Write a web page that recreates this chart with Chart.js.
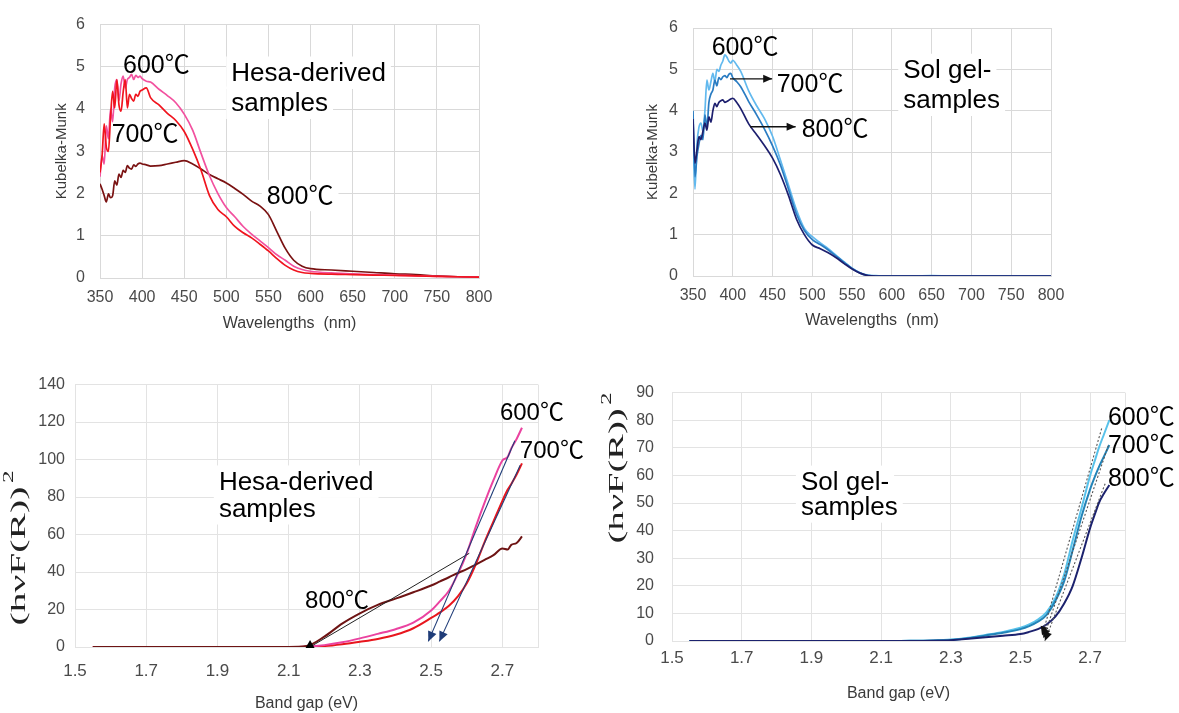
<!DOCTYPE html>
<html>
<head>
<meta charset="utf-8">
<script src="https://cdn.jsdelivr.net/npm/chart.js@4.4.1/dist/chart.umd.min.js"></script>
<style>
  html, body { margin: 0; padding: 0; background: #fff; }
  #wrap { position: relative; width: 1179px; height: 713px; overflow: hidden; background: #fff; }
  .panel { position: absolute; }
</style>
</head>
<body>
<div id="wrap">
  <div class="panel" style="left:40px;top:0;"><canvas id="cTL" width="470" height="340"></canvas></div>
  <div class="panel" style="left:630px;top:0;"><canvas id="cTR" width="450" height="340"></canvas></div>
  <div class="panel" style="left:0;top:365px;"><canvas id="cBL" width="600" height="348"></canvas></div>
  <div class="panel" style="left:600px;top:365px;"><canvas id="cBR" width="579" height="348"></canvas></div>
</div>
<script>
/* ── Data: Kubelka-Munk vs wavelength ── */
const wl = [350, 352.5, 355, 357.5, 360, 362.5, 365, 367.5, 370, 372.5,
            375, 377.5, 380, 382.5, 385, 387.5, 390, 392.5, 395, 397.5,
            400, 405, 410, 420, 430, 440, 450, 460, 470, 480,
            490, 500, 510, 520, 530, 540, 550, 560, 570, 580,
            590, 600, 625, 650, 675, 700, 725, 750, 775, 800];

const hesa600 = [2.4, 2.9, 2.7, 3.6, 3.3, 4.0, 3.7, 4.5, 4.7, 4.2,
                 4.6, 4.78, 4.5, 4.7, 4.75, 4.82, 4.7, 4.8, 4.75, 4.78,
                 4.72, 4.66, 4.64, 4.47, 4.32, 4.15, 3.88, 3.5, 2.95, 2.42,
                 2.0, 1.67, 1.45, 1.22, 1.04, 0.88, 0.72, 0.55, 0.42, 0.28,
                 0.2, 0.16, 0.12, 0.1, 0.08, 0.07, 0.05, 0.04, 0.03, 0.02];
const hesa700 = [2.5, 2.9, 3.65, 3.1, 3.0, 3.8, 4.42, 4.03, 4.7, 4.1,
                 3.95, 4.4, 4.7, 4.03, 4.35, 4.25, 4.19, 4.35, 4.3, 4.42,
                 4.45, 4.5, 4.27, 4.1, 3.9, 3.73, 3.47, 3.05, 2.55, 1.95,
                 1.62, 1.45, 1.22, 1.07, 0.95, 0.8, 0.64, 0.46, 0.3, 0.19,
                 0.13, 0.11, 0.09, 0.08, 0.07, 0.06, 0.05, 0.04, 0.03, 0.02];
const hesa800 = [2.23, 2.1, 1.95, 1.8, 1.99, 1.9, 1.95, 2.3, 2.2, 2.46,
                 2.38, 2.55, 2.5, 2.66, 2.6, 2.58, 2.68, 2.64, 2.7, 2.72,
                 2.7, 2.68, 2.65, 2.66, 2.7, 2.74, 2.78, 2.7, 2.58, 2.45,
                 2.35, 2.25, 2.12, 1.98, 1.82, 1.7, 1.5, 1.1, 0.7, 0.42,
                 0.28, 0.22, 0.19, 0.16, 0.13, 0.1, 0.08, 0.05, 0.03, 0.02];

const sol600 = [3.3, 2.1, 3.2, 3.6, 3.7, 3.5, 4.0, 4.74, 4.5, 4.7,
                4.9, 4.7, 5.0, 4.95, 5.1, 5.2, 5.35, 5.3, 5.2, 5.15,
                5.22, 5.1, 4.95, 4.48, 4.12, 3.8, 3.38, 2.8, 2.2, 1.6,
                1.15, 0.95, 0.8, 0.66, 0.5, 0.34, 0.19, 0.08, 0.02, 0.01,
                0, 0, 0, 0.01, 0, 0, 0, 0, 0, 0];
const sol700 = [4.0, 2.4, 2.9, 3.2, 3.4, 3.3, 3.9, 3.6, 4.2, 4.4,
                4.5, 4.74, 4.6, 4.8, 4.75, 4.82, 4.85, 4.8, 4.88, 4.9,
                4.8, 4.7, 4.58, 4.22, 3.9, 3.55, 3.15, 2.68, 2.1, 1.5,
                1.1, 0.88, 0.76, 0.63, 0.48, 0.33, 0.18, 0.07, 0.01, 0,
                0, 0, 0, 0, 0, 0, 0, 0, 0, 0];
const sol800 = [3.8, 2.73, 3.05, 3.37, 3.3, 3.5, 3.7, 3.53, 3.85, 3.72,
                4.0, 4.18, 4.1, 4.2, 4.24, 4.26, 4.2, 4.22, 4.25, 4.28,
                4.3, 4.2, 4.05, 3.68, 3.42, 3.15, 2.85, 2.45, 1.95, 1.38,
                1.0, 0.75, 0.66, 0.56, 0.44, 0.3, 0.17, 0.07, 0.01, 0,
                0, 0, 0, 0, 0, 0, 0, 0, 0, 0];

/* ── Data: (hvF(R))^2 vs band gap ── */
const ev = [1.55, 1.7, 1.9, 2.1, 2.15, 2.2, 2.25, 2.3, 2.35, 2.4, 2.45,
            2.5, 2.525, 2.55, 2.575, 2.6, 2.625, 2.65, 2.675, 2.7, 2.715, 2.725, 2.74, 2.755];

const tauc600 = [0, 0, 0, 0, 0.2, 1, 2.5, 4.6, 7, 9.5, 13, 19.5, 24.5, 30, 39, 50, 64, 77, 89, 99.5, 101.5, 106, 111, 117];
const tauc700 = [0, 0, 0, 0, 0.1, 0.5, 1.5, 2.8, 4.3, 6.5, 10, 15.5, 18.5, 22, 27, 34, 44, 56, 67, 78, 84, 87, 92, 98];
const tauc800 = [0, 0, 0, 0, 0.5, 5.5, 12.5, 18, 22.5, 25.8, 29.2, 32.8, 35, 37.2, 39.5, 41.5, 44, 46.5, 49, 52.5, 52, 54.5, 55.5, 59];

const solTauc600 = [0, 0, 0, 0, 0, 0.1, 0.2, 0.5, 1.2, 2.2, 3.3, 4.8, 6.0, 7.8, 10.5, 15.5, 24, 36.5, 48, 60, 66, 70, 75, 80];
const solTauc700 = [0, 0, 0, 0, 0, 0.1, 0.2, 0.4, 1.0, 2.0, 3.0, 4.3, 5.4, 7.0, 9.5, 14.5, 21.5, 33, 45, 55, 60, 63, 67, 71];
const solTauc800 = [0, 0, 0, 0, 0, 0, 0.1, 0.3, 0.8, 1.4, 1.9, 2.5, 3.3, 4.3, 6.0, 8.8, 13.5, 20, 30, 41, 46.5, 50, 53.5, 56.5];

/* ── Ticks ── */
const evTicks = [1.5, 1.7, 1.9, 2.1, 2.3, 2.5, 2.7, 2.8];

const SANS = "'Liberation Sans', 'Noto Sans CJK JP', Arial, sans-serif";
const SERIF = "'Liberation Serif', 'DejaVu Serif', serif";
const pts = (xs, ys) => xs.map((x, i) => ({ x, y: ys[i] }));

/* ── Labels, arrows, y titles ── */
function deco(o) {
  return {
    id: 'deco',
    beforeDatasetsDraw(chart) {
      const { ctx, scales: { x, y } } = chart;
      (o.labels || []).forEach(l => {
        if (!l.box) return;
        ctx.save();
        ctx.font = l.s + 'px ' + SANS;
        const w = ctx.measureText(l.t).width;
        const px = x.getPixelForValue(l.x), py = y.getPixelForValue(l.y);
        ctx.fillStyle = '#fff';
        ctx.fillRect(px - 5, py - l.s * 0.95, w + 10, l.s * 1.25);
        ctx.restore();
      });
    },
    afterDatasetsDraw(chart) {
      const { ctx, scales: { x, y } } = chart;
      (o.arrows || []).forEach(a => {
        const x1 = x.getPixelForValue(a.x1), y1 = y.getPixelForValue(a.y1);
        const x2 = x.getPixelForValue(a.x2), y2 = y.getPixelForValue(a.y2);
        ctx.save();
        ctx.strokeStyle = a.c; ctx.lineWidth = a.w || 1;
        if (a.dash) ctx.setLineDash(a.dash);
        ctx.beginPath(); ctx.moveTo(x1, y1); ctx.lineTo(x2, y2); ctx.stroke();
        ctx.setLineDash([]);
        if (a.head) {
          const ang = Math.atan2(y2 - y1, x2 - x1), L = a.hl || 9, W = a.hw || 4;
          ctx.fillStyle = a.hc || a.c;
          ctx.beginPath();
          ctx.moveTo(x2, y2);
          ctx.lineTo(x2 - L * Math.cos(ang) + W * Math.sin(ang), y2 - L * Math.sin(ang) - W * Math.cos(ang));
          ctx.lineTo(x2 - L * Math.cos(ang) - W * Math.sin(ang), y2 - L * Math.sin(ang) + W * Math.cos(ang));
          ctx.closePath(); ctx.fill();
        }
        ctx.restore();
      });
      (o.tris || []).forEach(t => {
        const px = x.getPixelForValue(t.x), py = y.getPixelForValue(t.y);
        ctx.save();
        ctx.fillStyle = '#000';
        ctx.beginPath(); ctx.moveTo(px, py - 7); ctx.lineTo(px - 4.5, py + 1); ctx.lineTo(px + 4.5, py + 1);
        ctx.closePath(); ctx.fill();
        ctx.restore();
      });
      (o.labels || []).forEach(l => {
        ctx.save();
        ctx.font = l.s + 'px ' + SANS;
        ctx.fillStyle = '#000';
        ctx.textAlign = 'left'; ctx.textBaseline = 'alphabetic';
        ctx.fillText(l.t, x.getPixelForValue(l.x), y.getPixelForValue(l.y));
        ctx.restore();
      });
    },
    afterDraw(chart) {
      if (!o.ytitle) return;
      const { ctx } = chart, t = o.ytitle;
      ctx.save();
      ctx.translate(t.cx, t.cy);
      ctx.rotate(-Math.PI / 2);
      ctx.scale(t.sx, 1);
      ctx.fillStyle = '#222';
      ctx.font = t.s + 'px ' + SERIF;
      const main = '(h\u03BDF(R))';
      const w = ctx.measureText(main).width;
      ctx.font = Math.round(t.s * 0.62) + 'px ' + SERIF;
      const w2 = ctx.measureText('2').width;
      const x0 = -(w + w2 + 2) / 2;
      ctx.textBaseline = 'middle'; ctx.textAlign = 'left';
      ctx.font = t.s + 'px ' + SERIF;
      ctx.fillText(main, x0, 0);
      ctx.font = Math.round(t.s * 0.62) + 'px ' + SERIF;
      ctx.fillText('2', x0 + w + 2, -t.s * 0.42);
      ctx.restore();
    }
  };
}

function makeChart(id, o) {
  const gc = o.grid || '#d9d9d9';
  return new Chart(document.getElementById(id), {
    type: 'line',
    data: {
      datasets: o.series.map(s => ({
        data: pts(o.xs, s.v),
        borderColor: s.c,
        borderWidth: o.lw,
        pointRadius: 0,
        cubicInterpolationMode: 'monotone',
        fill: false
      }))
    },
    options: {
      responsive: false, animation: false, events: [],
      layout: { padding: o.pad },
      plugins: { legend: { display: false }, tooltip: { enabled: false } },
      scales: {
        x: {
          type: 'linear', min: o.xmin, max: o.xmax,
          afterFit: s => { s.height = o.xh; },
          afterBuildTicks: o.xticks ? (s => { s.ticks = o.xticks.map(v => ({ value: v })); }) : undefined,
          grid: { color: gc, drawTicks: false },
          border: { color: gc },
          ticks: {
            stepSize: o.xstep, padding: o.xpad, color: '#4a4a4a',
            font: { family: SANS, size: o.xfs },
            maxRotation: 0, autoSkip: false,
            callback: o.xcb || (v => v)
          },
          title: o.xtitle ? { display: true, text: o.xtitle, color: '#3a3a3a',
                              font: { family: SANS, size: 16 }, padding: { top: 0, bottom: o.xtp } } : { display: false }
        },
        y: {
          min: o.ymin, max: o.ymax,
          afterFit: s => { s.width = o.yw; },
          grid: { color: gc, drawTicks: false },
          border: { color: gc },
          ticks: { stepSize: o.ystep, padding: o.ypad, color: '#4a4a4a', font: { family: SANS, size: o.yfs } },
          title: o.ylabel ? { display: true, text: o.ylabel, color: '#3a3a3a',
                              font: { family: SANS, size: 15 }, padding: { top: o.ytp, bottom: 0 } } : { display: false }
        }
      }
    },
    plugins: [deco(o)]
  });
}

/* ── Top left: Hesa-derived ── */
makeChart('cTL', {
  xs: wl, lw: 1.7,
  series: [
    { v: hesa700, c: '#f0141e' },
    { v: hesa600, c: '#f2519f' },
    { v: hesa800, c: '#7a1212' }
  ],
  pad: { top: 23, right: 31, left: 0, bottom: 0 },
  xmin: 350, xmax: 800, xstep: 50, xh: 62, xpad: 10, xfs: 16, xtitle: 'Wavelengths  (nm)', xtp: 7,
  ymin: 0, ymax: 6, ystep: 1, yw: 60, ypad: 15, yfs: 16, ylabel: 'Kubelka-Munk', ytp: 13,
  labels: [
    { t: '600\u2103', x: 377.3, y: 4.85, s: 25 },
    { t: '700\u2103', x: 363.9, y: 3.21, s: 25 },
    { t: '800\u2103', x: 548, y: 1.76, s: 25, box: true },
    { t: 'Hesa-derived', x: 505.8, y: 4.66, s: 26, box: true },
    { t: 'samples', x: 505.8, y: 3.95, s: 26, box: true }
  ]
});

/* ── Top right: Sol gel ── */
makeChart('cTR', {
  xs: wl, lw: 1.7,
  series: [
    { v: sol800, c: '#1d1f6e' },
    { v: sol700, c: '#2a7cc2' },
    { v: sol600, c: '#62b9ee' }
  ],
  pad: { top: 28, right: 29, left: 0, bottom: 0 },
  xmin: 350, xmax: 800, xstep: 50, xh: 64, xpad: 10, xfs: 16, xtitle: 'Wavelengths  (nm)', xtp: 10,
  ymin: 0, ymax: 6, ystep: 1, yw: 63, ypad: 15, yfs: 16, ylabel: 'Kubelka-Munk', ytp: 14,
  labels: [
    { t: '600\u2103', x: 373.5, y: 5.35, s: 25 },
    { t: '700\u2103', x: 455.2, y: 4.46, s: 25 },
    { t: '800\u2103', x: 486.6, y: 3.37, s: 25 },
    { t: 'Sol gel-', x: 614.3, y: 4.78, s: 26, box: true },
    { t: 'samples', x: 614.3, y: 4.06, s: 26, box: true }
  ],
  arrows: [
    { x1: 396.5, y1: 4.77, x2: 449.5, y2: 4.77, c: '#111', w: 1.4, head: true },
    { x1: 421.8, y1: 3.61, x2: 479, y2: 3.61, c: '#111', w: 1.4, head: true }
  ]
});

/* ── Bottom left: Hesa-derived band gap ── */
makeChart('cBL', {
  xs: ev, lw: 2, grid: '#e3e3e3',
  series: [
    { v: tauc800, c: '#6e1414' },
    { v: tauc600, c: '#ea43a0' },
    { v: tauc700, c: '#e8161e' }
  ],
  pad: { top: 16, right: 62, left: 0, bottom: 0 },
  xmin: 1.5, xmax: 2.8, xticks: evTicks, xcb: v => (v === 2.8 ? '' : v.toFixed(1)),
  xh: 66, xpad: 14, xfs: 17, xtitle: 'Band gap (eV)', xtp: 0,
  ymin: 0, ymax: 140, ystep: 20, yw: 75, ypad: 10, yfs: 16,
  ytitle: { cx: 19, cy: 183, s: 22, sx: 1.8 },
  labels: [
    { t: '600\u2103', x: 2.693, y: 121, s: 24 },
    { t: '700\u2103', x: 2.749, y: 101, s: 24 },
    { t: 'Hesa-derived', x: 1.904, y: 83.7, s: 26, box: true },
    { t: 'samples', x: 1.904, y: 69.5, s: 26, box: true },
    { t: '800\u2103', x: 2.146, y: 21, s: 24 }
  ],
  arrows: [
    { x1: 2.16, y1: 0, x2: 2.607, y2: 50, c: '#222', w: 1 },
    { x1: 2.735, y1: 110, x2: 2.492, y2: 3, c: '#1f3c78', w: 1.1, head: true, hl: 10, hw: 4.5 },
    { x1: 2.75, y1: 97, x2: 2.523, y2: 3, c: '#1f3c78', w: 1.1, head: true, hl: 10, hw: 4.5 }
  ],
  tris: [{ x: 2.16, y: 0 }]
});

/* ── Bottom right: Sol gel band gap ── */
makeChart('cBR', {
  xs: ev, lw: 2, grid: '#e3e3e3',
  series: [
    { v: solTauc800, c: '#1c226e' },
    { v: solTauc700, c: '#2384b8' },
    { v: solTauc600, c: '#58c2ea' }
  ],
  pad: { top: 14, right: 54, left: 0, bottom: 0 },
  xmin: 1.5, xmax: 2.8, xticks: evTicks, xcb: v => (v === 2.8 ? '' : v.toFixed(1)),
  xh: 72, xpad: 7, xfs: 17, xtitle: 'Band gap (eV)', xtp: 10,
  ymin: 0, ymax: 90, ystep: 10, yw: 72, ypad: 18, yfs: 16,
  ytitle: { cx: 17, cy: 103, s: 22, sx: 1.75 },
  labels: [
    { t: '600\u2103', x: 2.751, y: 78.3, s: 25 },
    { t: '700\u2103', x: 2.751, y: 68, s: 25 },
    { t: '800\u2103', x: 2.751, y: 56.3, s: 25 },
    { t: 'Sol gel-', x: 1.87, y: 54.6, s: 26, box: true },
    { t: 'samples', x: 1.87, y: 45.7, s: 26, box: true }
  ],
  arrows: [
    { x1: 2.733, y1: 77, x2: 2.562, y2: 2, c: '#555', w: 1.1, dash: [2, 2], head: true, hc: '#111', hl: 9, hw: 4 },
    { x1: 2.752, y1: 70.8, x2: 2.566, y2: 1, c: '#555', w: 1.1, dash: [2, 2], head: true, hc: '#111', hl: 9, hw: 4 },
    { x1: 2.743, y1: 57, x2: 2.57, y2: 0, c: '#555', w: 1.1, dash: [2, 2], head: true, hc: '#111', hl: 9, hw: 4 }
  ]
});
</script>
</body>
</html>
